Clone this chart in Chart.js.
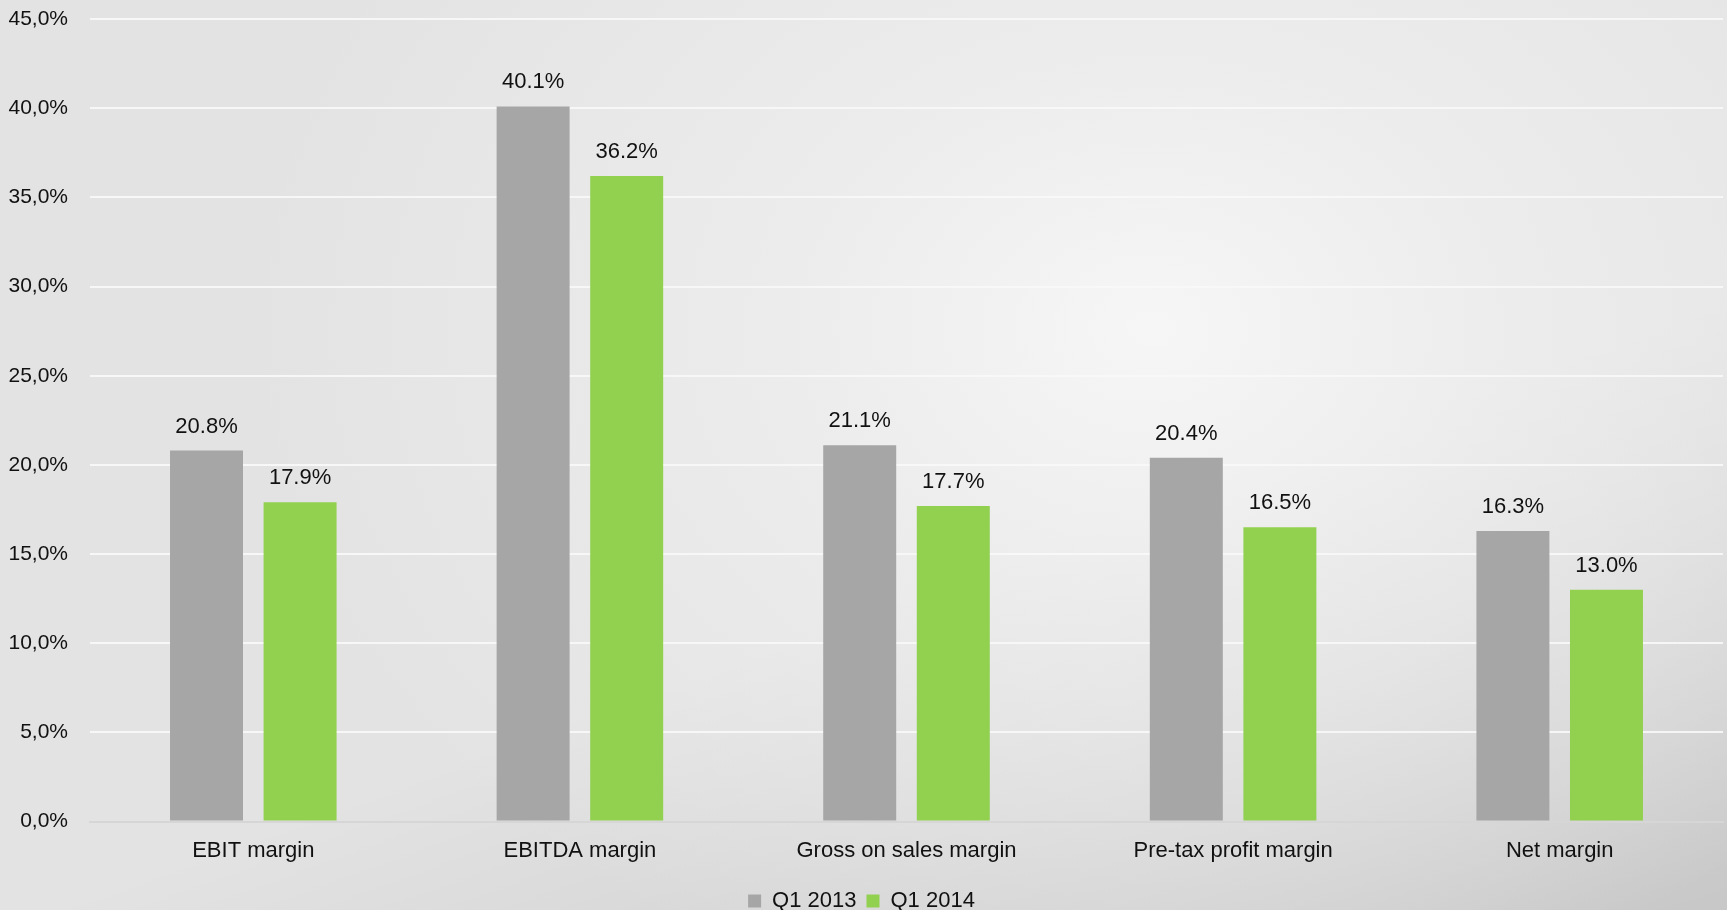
<!DOCTYPE html>
<html>
<head>
<meta charset="utf-8">
<script src="https://cdn.jsdelivr.net/npm/chart.js@4.4.1/dist/chart.umd.min.js"></script>
<style>
  html, body {
    margin: 0;
    padding: 0;
    width: 1727px;
    height: 910px;
    overflow: hidden;
  }
  body {
    background:
      radial-gradient(ellipse 900px 700px at 1150px 330px, rgba(246,246,246,1) 0%, rgba(240,240,240,0.7) 40%, rgba(228,228,228,0) 100%),
      linear-gradient(160deg, rgba(0,0,0,0) 60%, rgba(0,0,0,0.12) 100%),
      #e3e3e3;
  }
  canvas { position: absolute; left: 0; top: 0; }
</style>
</head>
<body>
<canvas id="marginChart" width="1727" height="910"></canvas>
<script>
const categories = ["EBIT margin", "EBITDA margin", "Gross on sales margin", "Pre-tax profit margin", "Net margin"];
const q1_2013 = [20.8, 40.1, 21.1, 20.4, 16.3];
const q1_2014 = [17.9, 36.2, 17.7, 16.5, 13.0];
const seriesNames = ["Q1 2013", "Q1 2014"];
const yTicks = [0, 5, 10, 15, 20, 25, 30, 35, 40, 45];

const FONT = "'Liberation Sans Narrow', 'Arial Narrow', 'Liberation Sans', sans-serif";

// values above bars, Excel style "20.8%"
const valueLabels = {
  id: "valueLabels",
  afterDatasetsDraw(chart) {
    const ctx = chart.ctx;
    ctx.save();
    ctx.font = "22px " + FONT;
    ctx.fillStyle = "#111";
    ctx.textAlign = "center";
    ctx.textBaseline = "alphabetic";
    chart.data.datasets.forEach((ds, i) => {
      chart.getDatasetMeta(i).data.forEach((bar, j) => {
        ctx.fillText(ds.data[j].toFixed(1) + "%", bar.x, bar.y - 18);
      });
    });
    ctx.restore();
  }
};

new Chart(document.getElementById("marginChart"), {
  type: "bar",
  data: {
    labels: categories,
    datasets: [
      { label: seriesNames[0], data: q1_2013, backgroundColor: "#a6a6a6" },
      { label: seriesNames[1], data: q1_2014, backgroundColor: "#92d050" }
    ]
  },
  options: {
    responsive: false,
    animation: false,
    devicePixelRatio: 1,
    categoryPercentage: 0.573,
    barPercentage: 0.78,
    layout: { padding: { top: 19, right: 4, left: 0, bottom: -12 } },
    plugins: {
      tooltip: { enabled: false },
      legend: {
        position: "bottom",
        labels: {
          color: "#111",
          font: { family: FONT, size: 22 },
          boxWidth: 13,
          boxHeight: 13,
          padding: 10
        }
      }
    },
    scales: {
      x: {
        grid: { display: false, drawTicks: false },
        border: { color: "#d6d6d6", width: 2 },
        ticks: { color: "#111", font: { family: FONT, size: 22 }, padding: 16 }
      },
      y: {
        min: 0,
        max: 45,
        afterBuildTicks(scale) { scale.ticks = yTicks.map(v => ({ value: v })); },
        afterFit(scale) { scale.width = 90; },
        grid: {
          color: "rgba(248,248,248,0.9)",
          lineWidth: 2,
          drawTicks: true,
          tickLength: 20,
          tickColor: "rgba(0,0,0,0)"
        },
        border: { display: false },
        ticks: {
          color: "#111",
          font: { family: FONT, size: 21 },
          padding: 2,
          callback: v => v.toFixed(1).replace(".", ",") + "%"
        }
      }
    }
  },
  plugins: [valueLabels]
});
</script>
</body>
</html>
